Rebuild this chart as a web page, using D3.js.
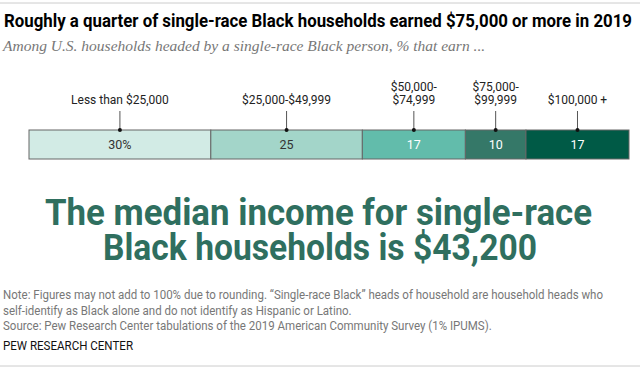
<!DOCTYPE html>
<meta charset="utf-8" />
<style>
    body { margin: 0; background: #fff; }
    svg { display: block; }
    .title { font-family: 'Roboto', sans-serif; font-weight: bold; font-size: 18px; fill: #000; }
    .subtitle { font-family: 'Liberation Serif', 'DejaVu Serif', serif; font-style: italic; font-size: 15.5px; fill: #777; }
    .cat { font-family: 'Roboto', sans-serif; font-size: 12px; fill: #222; }
    .val { font-family: 'Roboto', sans-serif; font-size: 12.5px; }
    .big { font-family: 'Roboto', sans-serif; font-weight: bold; font-size: 37px; fill: #2f6f5f; }
    .note { font-family: 'Roboto', sans-serif; font-size: 12px; fill: #777; }
    .brand { font-family: 'Roboto', sans-serif; font-size: 13px; fill: #111; }
</style>

<svg width="640" height="370"></svg>

<script src="https://d3js.org/d3.v7.min.js"></script>
<script>
    const categories = [['Less than $25,000'], ['$25,000-$49,999'], ['$50,000-', '$74,999'], ['$75,000-', '$99,999'], ['$100,000 +']];
    const shares = [30, 25, 17, 10, 17];
    const valueLabels = ['30%', '25', '17', '10', '17'];
    const colors = ['#d2ebe5', '#a3d5c9', '#62bcab', '#357868', '#005a46'];
    const textColors = ['#333', '#333', '#fff', '#fff', '#fff'];

    const svg = d3.select('svg');

    // squeeze a text to a given width, to mimic the condensed house font
    function squeeze(sel, w) {
        sel.attr('textLength', w).attr('lengthAdjust', 'spacingAndGlyphs');
    }

    svg.append('line').attr('x1', 0).attr('x2', 640).attr('y1', 3).attr('y2', 3).attr('stroke', '#ccc');
    svg.append('line').attr('x1', 0).attr('x2', 640).attr('y1', 366).attr('y2', 366).attr('stroke', '#ccc');

    svg.append('text').attr('class', 'title').attr('x', 4).attr('y', 27)
        .text('Roughly a quarter of single-race Black households earned $75,000 or more in 2019')
        .call(squeeze, 628);
    svg.append('text').attr('class', 'subtitle').attr('x', 3).attr('y', 51)
        .text('Among U.S. households headed by a single-race Black person, % that earn ...');

    // stacked bar
    let cum = 0;
    const data = shares.map((v, i) => {
        const d = { cat: categories[i], value: v, start: cum, label: valueLabels[i], color: colors[i], tc: textColors[i] };
        cum += v;
        return d;
    });

    const x = d3.scaleLinear().domain([0, cum]).range([29, 629]);
    const barTop = 130;
    const barH = 29;

    const g = svg.append('g');

    g.selectAll('rect').data(data).enter().append('rect')
        .attr('x', d => x(d.start))
        .attr('y', barTop)
        .attr('width', d => x(d.start + d.value) - x(d.start))
        .attr('height', barH)
        .attr('fill', d => d.color)
        .attr('stroke', '#666')
        .attr('stroke-width', 1);

    g.selectAll('.val').data(data).enter().append('text')
        .attr('class', 'val')
        .attr('x', d => x(d.start + d.value / 2))
        .attr('y', barTop + barH / 2 + 4.5)
        .attr('text-anchor', 'middle')
        .attr('fill', d => d.tc)
        .text(d => d.label);

    const ticks = g.selectAll('.tick').data(data).enter().append('g').attr('class', 'tick')
        .attr('transform', d => `translate(${x(d.start + d.value / 2)},0)`);
    ticks.append('line').attr('y1', 111).attr('y2', barTop).attr('stroke', '#555').attr('stroke-width', 1);
    ticks.append('circle').attr('cy', barTop).attr('r', 2).attr('fill', '#111');
    ticks.append('text').attr('class', 'cat').attr('text-anchor', 'middle')
        .selectAll('tspan').data(d => d.cat.map((t, i, a) => ({ t, i, n: a.length }))).enter().append('tspan')
        .attr('x', 0)
        .attr('y', d => 104 - (d.n - 1 - d.i) * 13)
        .text(d => d.t);

    svg.append('text').attr('class', 'big').attr('x', 45).attr('y', 225)
        .text('The median income for single-race').call(squeeze, 547);
    svg.append('text').attr('class', 'big').attr('x', 103).attr('y', 260)
        .text('Black households is $43,200').call(squeeze, 434);

    const notes = [
        'Note: Figures may not add to 100% due to rounding. \u201cSingle-race Black\u201d heads of household are household heads who',
        'self-identify as Black alone and do not identify as Hispanic or Latino.',
        'Source: Pew Research Center tabulations of the 2019 American Community Survey (1% IPUMS).'
    ];
    const noteSel = svg.selectAll('.note').data(notes).enter().append('text')
        .attr('class', 'note').attr('x', 3).attr('y', (d, i) => 299 + i * 15.5).text(d => d);
    const k = 600 / noteSel.nodes()[0].getComputedTextLength();
    noteSel.each(function () {
        d3.select(this).call(squeeze, this.getComputedTextLength() * k);
    });

    const brand = svg.append('text').attr('class', 'brand').attr('x', 3).attr('y', 350).text('PEW RESEARCH CENTER');
    brand.call(squeeze, 130);
</script>
